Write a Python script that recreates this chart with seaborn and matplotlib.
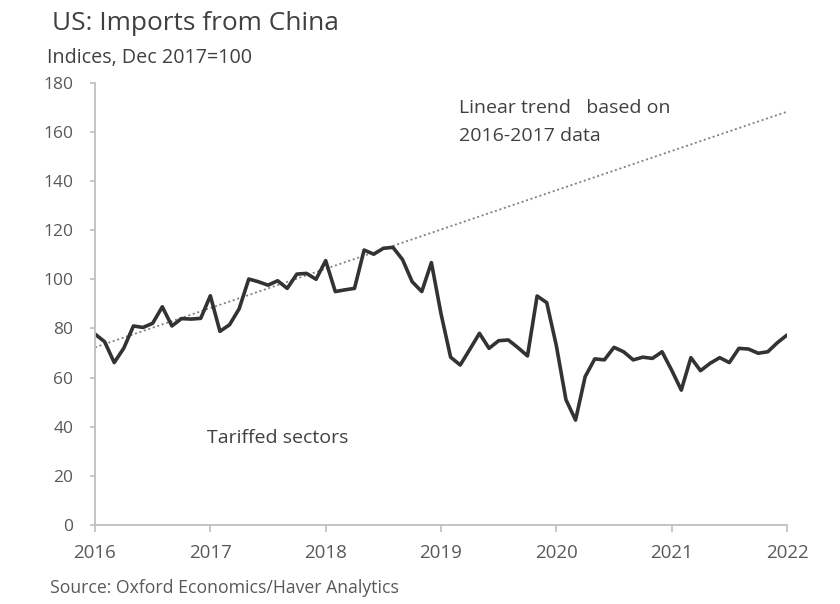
import numpy as np
import pandas as pd
import matplotlib
matplotlib.use("Agg")
import matplotlib.pyplot as plt
import seaborn as sns

# Monthly index values, Jan 2016 .. Jan 2022 (Dec 2017 = 100)
start_year = 2016
tariffed = [77.7, 74.6, 66.1, 72.0, 81.0, 80.4, 82.1, 88.8, 81.0, 84.0, 83.8, 84.1,
            93.3, 78.8, 81.5, 88.0, 100.1, 99.0, 97.6, 99.4, 96.3, 102.1, 102.4, 100.0,
            107.6, 95.0, 95.7, 96.3, 111.9, 110.2, 112.6, 113.0, 108.0, 99.0, 95.0, 106.8,
            86.0, 68.3, 65.1, 71.5, 78.0, 71.9, 75.0, 75.3, 72.2, 68.8, 93.2, 90.5,
            73.0, 51.0, 42.7, 60.4, 67.6, 67.2, 72.3, 70.5, 67.2, 68.3, 67.8, 70.5,
            63.0, 54.9, 68.1, 62.8, 65.8, 68.1, 66.1, 71.9, 71.6, 69.9, 70.5, 74.2,
            77.3]
trend_years = [2016, 2022]
trend_values = [72.3, 168.2]
x_ticks = [2016, 2017, 2018, 2019, 2020, 2021, 2022]
y_ticks = [0, 20, 40, 60, 80, 100, 120, 140, 160, 180]

df = pd.DataFrame({"year": start_year + np.arange(len(tariffed)) / 12.0,
                   "value": tariffed})
df_trend = pd.DataFrame({"year": trend_years, "value": trend_values})

sns.set_theme(style="white")
plt.rcParams["font.family"] = ["Open Sans", "DejaVu Sans"]

fig = plt.figure(figsize=(8.4, 6.04), dpi=100)
fig.patch.set_facecolor("white")
ax = fig.add_axes([95/840, 1 - 525/604, (787 - 95)/840, (525 - 82.7)/604])
ax.set_facecolor("white")

sns.lineplot(data=df_trend, x="year", y="value", ax=ax, color="#808080",
             linewidth=1.3, linestyle=(0, (1.1, 1.5)))
sns.lineplot(data=df, x="year", y="value", ax=ax, color="#333333",
             linewidth=2.6)

ax.set_xlim(2016, 2022)
ax.set_ylim(0, 180)
ax.set_xticks(x_ticks)
ax.set_yticks(y_ticks)
ax.set_xticklabels([str(t) for t in x_ticks], fontsize=13.5, color="#595959")
ax.set_yticklabels([str(t) for t in y_ticks], fontsize=12.5, color="#595959")
ax.set_xlabel("")
ax.set_ylabel("")

for s in ["top", "right"]:
    ax.spines[s].set_visible(False)
for s in ["left", "bottom"]:
    ax.spines[s].set_color("#bfbfbf")
    ax.spines[s].set_linewidth(1.3)
ax.tick_params(axis="both", which="major", width=1.2, color="#bfbfbf",
               direction="out", left=True, bottom=True)
ax.tick_params(axis="y", length=3.6, pad=12)
ax.tick_params(axis="x", length=5, pad=9)

fig.text(52/840, 1 - 23/604, "US: Imports from China", fontsize=18.9,
         color="#404040", ha="left", va="center")
fig.text(47/840, 1 - 58/604, "Indices, Dec 2017=100", fontsize=14.2,
         color="#404040", ha="left", va="center")
fig.text(50/840, 1 - 588/604, "Source: Oxford Economics/Haver Analytics",
         fontsize=12.7, color="#595959", ha="left", va="center")

ax.text(459/840, 1 - 108/604, "Linear trend   based on", transform=fig.transFigure,
        fontsize=14, color="#404040", ha="left", va="center")
ax.text(459/840, 1 - 136/604, "2016-2017 data", transform=fig.transFigure,
        fontsize=14, color="#404040", ha="left", va="center")
ax.text(207/840, 1 - 438/604, "Tariffed sectors", transform=fig.transFigure,
        fontsize=14, color="#404040", ha="left", va="center")

fig.savefig("out.png", dpi=100)
